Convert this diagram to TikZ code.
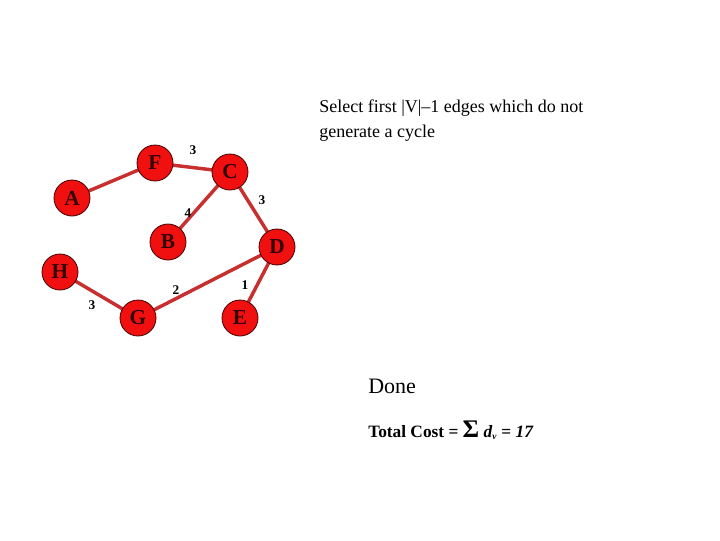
\documentclass[tikz,border=0pt]{standalone}
\usepackage{fontspec}
\setmainfont{Liberation Serif}
\definecolor{nodered}{HTML}{F01010}
\definecolor{edgered}{HTML}{C83030}
\begin{document}
\begin{tikzpicture}[x=0.75pt,y=-0.75pt,
  vert/.style={circle,draw=black!75!red,line width=0.6pt,fill=nodered,minimum size=27pt,inner sep=0pt,font=\fontsize{16}{16}\selectfont\bfseries,text=black!80!red},
  edge/.style={draw=edgered,line width=2.6pt},
  wt/.style={font=\fontsize{10}{10}\selectfont\bfseries}]
\useasboundingbox (0,0) rectangle (720,540);
\coordinate (F) at (155,163);
\coordinate (C) at (230,172);
\coordinate (A) at (72,198);
\coordinate (B) at (168,242);
\coordinate (D) at (277,247);
\coordinate (H) at (60,272);
\coordinate (G) at (138,318);
\coordinate (E) at (240,318);
\draw[edge] (A) -- (F);
\draw[edge] (F) -- (C);
\draw[edge] (C) -- (B);
\draw[edge] (C) -- (D);
\draw[edge] (D) -- (G);
\draw[edge] (D) -- (E);
\draw[edge] (H) -- (G);
\node[vert] (nF) at (F) {F};
\node[vert] (nC) at (C) {C};
\node[vert] (nA) at (A) {A};
\node[vert] (nB) at (B) {B};
\node[vert] (nD) at (D) {D};
\node[vert] (nH) at (H) {H};
\node[vert] (nG) at (G) {G};
\node[vert] (nE) at (E) {E};
\node[wt] (w1) at (193,150) {3};
\node[wt] (w2) at (262,200) {3};
\node[wt] (w3) at (188,213) {4};
\node[wt] (w4) at (176,290) {2};
\node[wt] (w5) at (245,285) {1};
\node[wt] (w6) at (92,305) {3};
\node[anchor=north west,align=left,inner sep=0pt,font=\fontsize{13.5}{18.5}\selectfont] (t) at (319,100) {Select first |V|--1 edges which do not\\generate a cycle};
\node[anchor=west,inner sep=0pt,font=\fontsize{16.5}{16.5}\selectfont] (done) at (368,386) {Done};
\node[anchor=west,inner sep=0pt,font=\fontsize{13}{13}\selectfont\bfseries] (tc) at (368,430) {Total Cost = {\fontsize{19}{19}\selectfont Σ} \textit{d\textsubscript{\fontsize{7}{7}\selectfont v}} = \textit{17}};
\end{tikzpicture}
\end{document}
